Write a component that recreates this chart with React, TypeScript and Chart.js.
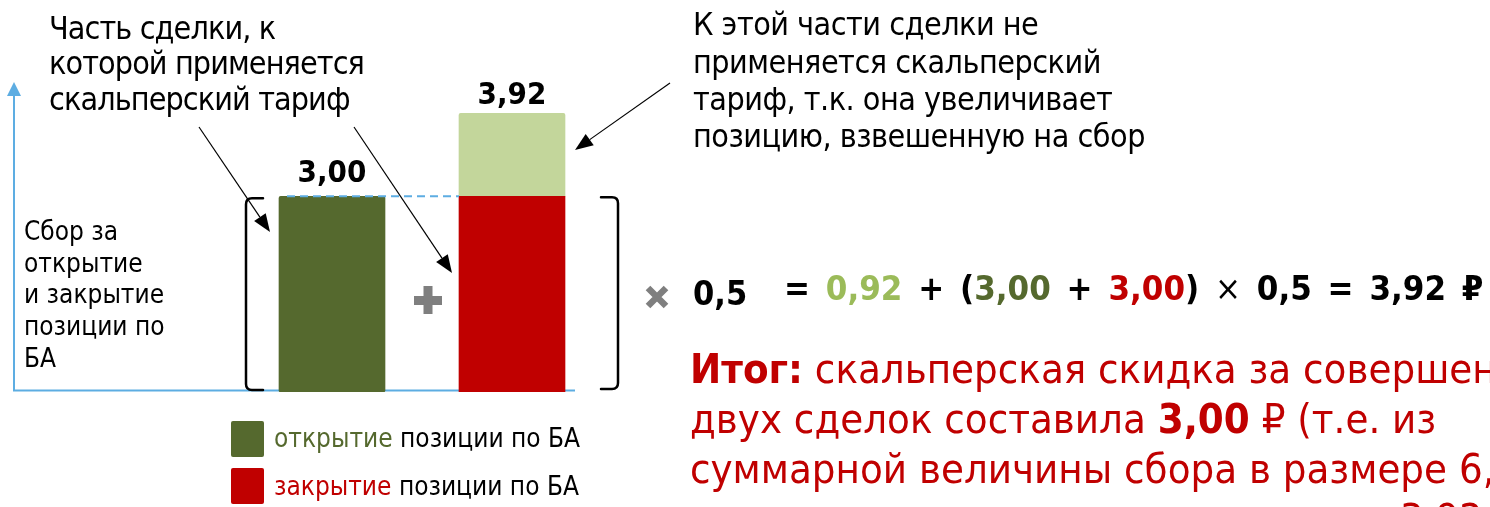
import React, { useEffect, useRef } from "react";
import { Chart, registerables } from "chart.js";

Chart.register(...registerables);

// ---- data ----
const categories = ["Открытие", "Закрытие"];
const openFee = [3.0, null];
const closeFee = [null, 3.0];
// height of the light-green segment as it is drawn in the picture (labelled 0,92)
const extraPart = [null, 1.27];
const barTotals = ["3,00", "3,92"];
const yMax = 4.75;

const legendLabels = ["открытие", "закрытие"];
const legendSuffix = " позиции по БА";

const COLORS = {
  open: "#55692E",
  close: "#C00000",
  extra: "#C3D69B",
  extraText: "#9BBB59",
  axis: "#5DADE2",
  gray: "#7F7F7F",
};

const FONT = "'DejaVu Sans Condensed', 'DejaVu Sans', sans-serif";

function arrow(ctx: CanvasRenderingContext2D, x1: number, y1: number, x2: number, y2: number) {
  const ang = Math.atan2(y2 - y1, x2 - x1);
  const len = 18;
  const half = 7;
  const bx = x2 - len * Math.cos(ang);
  const by = y2 - len * Math.sin(ang);
  ctx.save();
  ctx.strokeStyle = "#000";
  ctx.fillStyle = "#000";
  ctx.lineWidth = 1.2;
  ctx.beginPath();
  ctx.moveTo(x1, y1);
  ctx.lineTo(bx, by);
  ctx.stroke();
  ctx.beginPath();
  ctx.moveTo(x2, y2);
  ctx.lineTo(bx + half * Math.sin(ang), by - half * Math.cos(ang));
  ctx.lineTo(bx - half * Math.sin(ang), by + half * Math.cos(ang));
  ctx.closePath();
  ctx.fill();
  ctx.restore();
}

function bracket(ctx: CanvasRenderingContext2D, x: number, top: number, bottom: number, dir: number) {
  const tip = 17 * dir;
  const r = 6;
  ctx.save();
  ctx.strokeStyle = "#000";
  ctx.lineWidth = 2.5;
  ctx.lineCap = "round";
  ctx.beginPath();
  ctx.moveTo(x + tip, top);
  ctx.lineTo(x + r * dir, top);
  ctx.quadraticCurveTo(x, top, x, top + r);
  ctx.lineTo(x, bottom - r);
  ctx.quadraticCurveTo(x, bottom, x + r * dir, bottom);
  ctx.lineTo(x + tip, bottom);
  ctx.stroke();
  ctx.restore();
}

const decor = {
  id: "decor",
  beforeDatasetsDraw(chart: any) {
    const { ctx, chartArea } = chart;
    const axisY = chartArea.bottom - 1.5;
    ctx.save();
    ctx.strokeStyle = COLORS.axis;
    ctx.fillStyle = COLORS.axis;
    ctx.lineWidth = 2;
    ctx.beginPath();
    ctx.moveTo(14, axisY);
    ctx.lineTo(14, chartArea.top + 12);
    ctx.moveTo(13, axisY);
    ctx.lineTo(575, axisY);
    ctx.stroke();
    ctx.beginPath();
    ctx.moveTo(14, chartArea.top);
    ctx.lineTo(7, chartArea.top + 14);
    ctx.lineTo(21, chartArea.top + 14);
    ctx.closePath();
    ctx.fill();
    ctx.restore();
  },
  afterDatasetsDraw(chart: any) {
    const { ctx } = chart;
    const b0 = chart.getDatasetMeta(0).data[0];
    const b1 = chart.getDatasetMeta(1).data[1];
    const b2 = chart.getDatasetMeta(2).data[1];
    const w = b0.width;
    const base = b0.base;

    // dashed guide at the level of 3,00
    ctx.save();
    ctx.strokeStyle = COLORS.axis;
    ctx.lineWidth = 2;
    ctx.setLineDash([8, 5]);
    ctx.beginPath();
    ctx.moveTo(b0.x - w / 2 + 8, b0.y);
    ctx.lineTo(b1.x - w / 2, b0.y);
    ctx.stroke();
    ctx.restore();

    // brackets
    bracket(ctx, b0.x - w / 2 - 33, b0.y + 2, base - 2, 1);
    bracket(ctx, b1.x + w / 2 + 53, b1.y + 1, base - 3, -1);

    // plus sign
    ctx.save();
    ctx.fillStyle = COLORS.gray;
    ctx.fillRect(414, 296, 28, 9);
    ctx.fillRect(423.5, 286, 9, 28);
    ctx.restore();

    // multiply sign
    ctx.save();
    ctx.strokeStyle = COLORS.gray;
    ctx.lineWidth = 6.5;
    ctx.beginPath();
    ctx.moveTo(648, 288);
    ctx.lineTo(666, 306);
    ctx.moveTo(666, 288);
    ctx.lineTo(648, 306);
    ctx.stroke();
    ctx.restore();

    // arrows
    arrow(ctx, 199, 127, 270, 232);
    arrow(ctx, 354, 127, 452, 273);
    arrow(ctx, 670, 83, 575, 150);

    // totals above bars
    ctx.save();
    ctx.fillStyle = "#000";
    ctx.font = `bold 31px ${FONT}`;
    ctx.textAlign = "center";
    ctx.textBaseline = "alphabetic";
    ctx.fillText(barTotals[0], b0.x, b0.y - 14);
    ctx.fillText(barTotals[1], b2.x, b2.y - 9);
    ctx.restore();
  },
};

type LineProps = {
  x: number;
  baseline: number;
  size: number;
  bold?: boolean;
  color?: string;
  ls?: number;
  ws?: number;
  children: React.ReactNode;
};

function Line({ x, baseline, size, bold, color, ls, ws, children }: LineProps) {
  return (
    <div
      style={{
        position: "absolute",
        left: x,
        top: baseline - 0.846 * size,
        fontFamily: FONT,
        fontSize: size,
        lineHeight: `${size}px`,
        fontWeight: bold ? "bold" : "normal",
        color: color || "#000",
        whiteSpace: "nowrap",
        letterSpacing: ls ? `${ls}px` : undefined,
        wordSpacing: ws ? `${ws}px` : undefined,
      }}
    >
      {children}
    </div>
  );
}

export default function App() {
  const canvasRef = useRef<HTMLCanvasElement | null>(null);

  useEffect(() => {
    const canvas = canvasRef.current;
    if (!canvas) return;
    const chart = new Chart(canvas, {
      type: "bar",
      data: {
        labels: categories,
        datasets: [
          { label: legendLabels[0], data: openFee, backgroundColor: COLORS.open, stack: "s", barThickness: 106, borderRadius: 2, borderSkipped: false },
          { label: legendLabels[1], data: closeFee, backgroundColor: COLORS.close, stack: "s", barThickness: 106, borderRadius: 1 },
          { label: "сверх", data: extraPart, backgroundColor: COLORS.extra, stack: "s", barThickness: 106, borderRadius: 2 },
        ],
      } as any,
      options: {
        responsive: false,
        animation: false,
        devicePixelRatio: 1,
        layout: { padding: { left: 242, right: 888, top: 82, bottom: 115 } },
        plugins: { legend: { display: false }, tooltip: { enabled: false } },
        scales: {
          x: { display: false, stacked: true },
          y: { display: false, stacked: true, min: 0, max: yMax },
        },
      } as any,
      plugins: [decor],
    });
    return () => chart.destroy();
  }, []);

  const legendColors = [COLORS.open, COLORS.close];

  return (
    <div style={{ position: "fixed", left: 0, top: 0, width: 1490, height: 507, overflow: "hidden", background: "#fff" }}>
      <canvas ref={canvasRef} width={1490} height={507} style={{ position: "absolute", left: 0, top: 0, display: "block" }} />

      {/* top-left note */}
      <Line x={49} baseline={39} size={32} ls={-0.9}>Часть сделки, к</Line>
      <Line x={49} baseline={74} size={32} ls={-0.9}>которой применяется</Line>
      <Line x={49} baseline={110} size={32} ls={-0.9}>скальперский тариф</Line>

      {/* top-right note */}
      <Line x={693} baseline={35} size={32} ls={-0.5}>К этой части сделки не</Line>
      <Line x={693} baseline={73} size={32} ls={-0.5}>применяется скальперский</Line>
      <Line x={693} baseline={110} size={32} ls={-0.5}>тариф, т.к. она увеличивает</Line>
      <Line x={693} baseline={147} size={32} ls={-0.5}>позицию, взвешенную на сбор</Line>

      {/* axis label */}
      <Line x={24} baseline={240} size={26}>Сбор за</Line>
      <Line x={24} baseline={272} size={26}>открытие</Line>
      <Line x={24} baseline={303} size={26}>и закрытие</Line>
      <Line x={24} baseline={335} size={26}>позиции по</Line>
      <Line x={24} baseline={367} size={26}>БА</Line>

      {/* legend */}
      {legendLabels.map((lab, i) => (
        <React.Fragment key={lab}>
          <div
            style={{
              position: "absolute",
              left: 231,
              top: 421 + i * 47,
              width: 33,
              height: 36,
              borderRadius: 2,
              background: legendColors[i],
            }}
          />
          <Line x={274} baseline={447 + i * 48} size={26}>
            <span style={{ color: legendColors[i] }}>{lab}</span>
            {legendSuffix}
          </Line>
        </React.Fragment>
      ))}

      {/* formula */}
      <Line x={693} baseline={305} size={34} bold>0,5</Line>
      <Line x={784} baseline={300} size={34.5} bold ws={5}>
        = <span style={{ color: COLORS.extraText }}>0,92</span> + (
        <span style={{ color: COLORS.open }}>3,00</span> +{" "}
        <span style={{ color: COLORS.close }}>3,00</span>){" "}
        <span style={{ fontWeight: "normal" }}>×</span> 0,5 = 3,92 ₽
      </Line>

      {/* conclusion */}
      <Line x={690} baseline={383} size={41.5} color={COLORS.close}>
        <b>Итог:</b> скальперская скидка за совершение
      </Line>
      <Line x={690} baseline={433} size={41.5} color={COLORS.close}>
        двух сделок составила <b>3,00</b> ₽ (т.е. из
      </Line>
      <Line x={690} baseline={483} size={41.5} color={COLORS.close}>
        суммарной величины сбора в размере 6,92 ₽
      </Line>
      <Line x={690} baseline={533} size={41.5} color={COLORS.close}>
        с учетом скидки к оплате осталось 3,92 ₽)
      </Line>
    </div>
  );
}
